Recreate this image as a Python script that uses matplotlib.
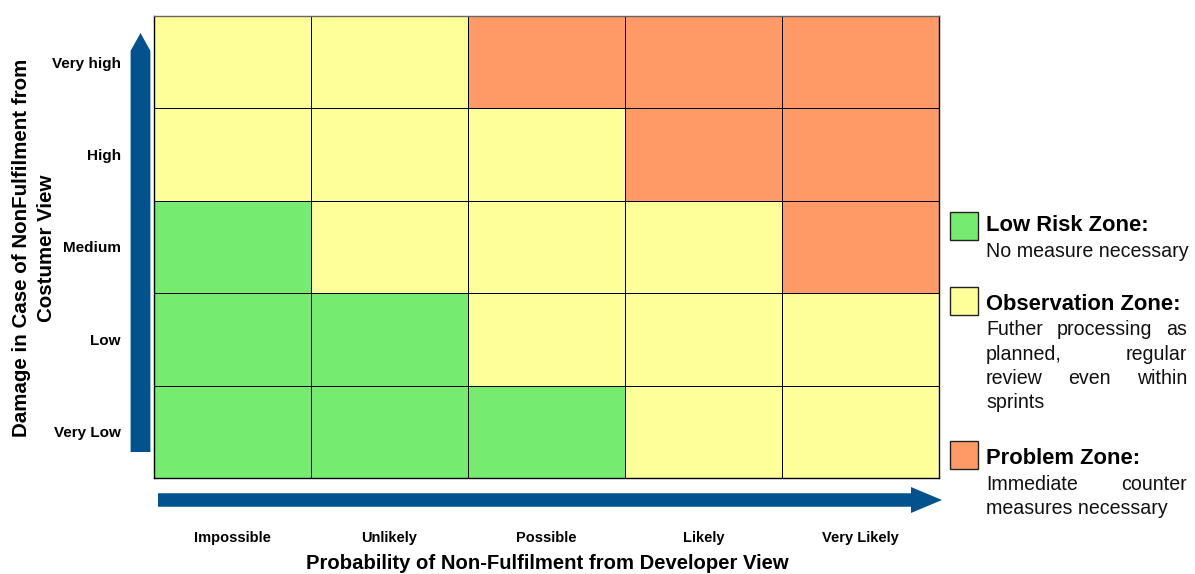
import matplotlib
matplotlib.use("Agg")
import matplotlib.pyplot as plt
import numpy as np
from matplotlib.colors import ListedColormap
from matplotlib.patches import Rectangle, FancyArrow

plt.rcParams['font.family'] = ['Liberation Sans', 'DejaVu Sans']

# ---------------- data ----------------
probability_labels = ["Impossible", "Unlikely", "Possible", "Likely", "Very Likely"]
damage_labels = ["Very Low", "Low", "Medium", "High", "Very high"]  # bottom -> top
# zone index: 0 = low risk (green), 1 = observation (yellow), 2 = problem (orange)
zone_very_low = [0, 0, 0, 1, 1]
zone_low = [0, 0, 1, 1, 1]
zone_medium = [0, 1, 1, 1, 2]
zone_high = [1, 1, 1, 2, 2]
zone_very_high = [1, 1, 2, 2, 2]
zone_colors = ["#75EC70", "#FFFF99", "#FF9966"]
zone_titles = ["Low Risk Zone:", "Observation Zone:", "Problem Zone:"]
zone_descriptions = [
    ["No measure necessary"],
    ["Futher processing as", "planned, regular", "review even within", "sprints"],
    ["Immediate counter", "measures necessary"],
]
x_title = "Probability of Non-Fulfilment from Developer View"
y_title = "Damage in Case of NonFulfilment from\nCostumer View"

W, H = 1195, 574
fig = plt.figure(figsize=(W / 100, H / 100), dpi=100)

def fx(px):
    return px / W

def fy(py):
    return 1 - py / H

# grid axes
ax = fig.add_axes([fx(154), fy(478), fx(939) - fx(154), fy(16) - fy(478)])
Z = np.array([zone_very_low, zone_low, zone_medium, zone_high, zone_very_high])
cmap = ListedColormap(zone_colors)
ax.pcolormesh(np.arange(len(probability_labels) + 1), np.arange(len(damage_labels) + 1), Z,
              cmap=cmap, vmin=-0.5, vmax=2.5, edgecolors="black", linewidth=0.6)
ax.set_xlim(0, len(probability_labels))
ax.set_ylim(0, len(damage_labels))
for s in ax.spines.values():
    s.set_color("black")
    s.set_linewidth(1.0)
ax.spines["top"].set_color("#666666")

ax.set_xticks(np.arange(len(probability_labels)) + 0.5)
ax.set_xticklabels(probability_labels, fontsize=10.5, fontweight="bold")
ax.set_yticks(np.arange(len(damage_labels)) + 0.5)
ax.set_yticklabels(damage_labels, fontsize=11, fontweight="bold")
ax.tick_params(axis="x", length=0, pad=38)
ax.tick_params(axis="y", length=0, pad=24)

arrow_color = "#02528F"
# vertical arrow
fig.patches.append(FancyArrow(fx(140.5), fy(452), 0, fy(33) - fy(452), width=9.5 / H,
                              head_width=20 / W, head_length=18 / H, length_includes_head=True,
                              transform=fig.transFigure, color=arrow_color, lw=0))
# horizontal arrow
fig.patches.append(FancyArrow(fx(158), fy(500), fx(942) - fx(158), 0, width=13.5 / H,
                              head_width=26 / H, head_length=31 / W, length_includes_head=True,
                              transform=fig.transFigure, color=arrow_color, lw=0))

# axis titles
fig.text(fx(547.5), fy(569), x_title, ha="center", va="baseline", fontsize=14.6, fontweight="bold")
fig.text(fx(34), fy(248), y_title, ha="center", va="center", rotation=90,
         fontsize=14.8, fontweight="bold", multialignment="center", linespacing=1.45)

# legend
renderer = fig.canvas.get_renderer()
square_tops = [212, 287, 441]
title_baselines = [231, 310, 464]
desc_baselines = [[257], [335, 360, 384, 408], [490, 514]]
text_left, text_right = 986, 1187
desc_size = 14.1

def justify(line, baseline, last):
    words = line.split(" ")
    if last or len(words) == 1:
        fig.text(fx(text_left), fy(baseline), line, ha="left", va="baseline",
                 fontsize=desc_size, color="#111111")
        return
    texts = [fig.text(0, fy(baseline), w, ha="left", va="baseline",
                      fontsize=desc_size, color="#111111") for w in words]
    widths = [t.get_window_extent(renderer).width for t in texts]
    gap = (text_right - text_left - sum(widths)) / (len(words) - 1)
    x = text_left
    for t, w in zip(texts, widths):
        t.set_x(fx(x))
        x += w + gap

for i in range(len(zone_titles)):
    top = square_tops[i]
    fig.patches.append(Rectangle((fx(950), fy(top + 28)), 28 / W, 28 / H,
                                 transform=fig.transFigure, facecolor=zone_colors[i],
                                 edgecolor="#222222", lw=1.0))
    fig.text(fx(text_left), fy(title_baselines[i]), zone_titles[i], ha="left", va="baseline",
             fontsize=15.8, fontweight="bold")
    lines = zone_descriptions[i]
    for j, line in enumerate(lines):
        justify(line, desc_baselines[i][j], j == len(lines) - 1)

fig.savefig("out.png", dpi=100)
